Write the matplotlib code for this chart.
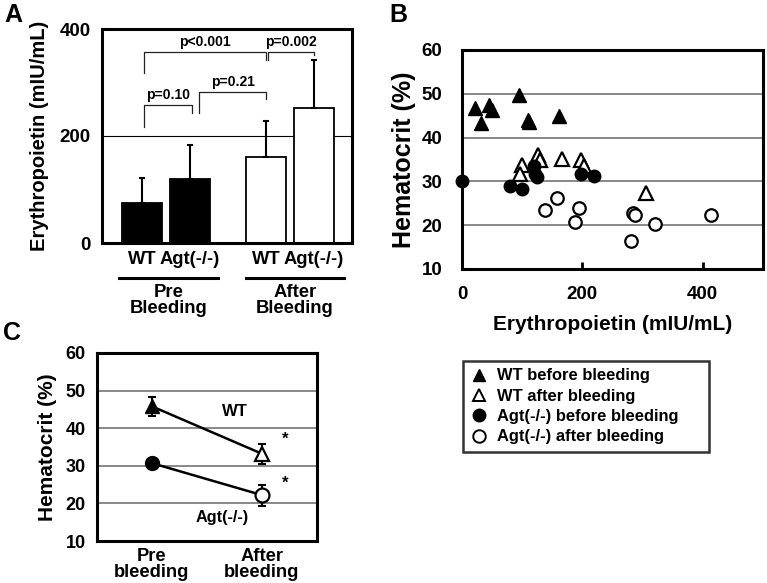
import numpy as np
import matplotlib
matplotlib.use("Agg")
import matplotlib.pyplot as plt
from matplotlib.lines import Line2D

plt.rcParams['font.family'] = ['Liberation Sans', 'DejaVu Sans']
plt.rcParams['font.weight'] = 'bold'
plt.rcParams['axes.labelweight'] = 'bold'

# ---- panel A: erythropoietin bars ----
bar_labels = ['WT', 'Agt(-/-)', 'WT', 'Agt(-/-)']
bar_pos = [1.0, 2.2, 4.1, 5.3]
epo_mean = [75, 120, 160, 252]
epo_sd = [46, 63, 68, 90]
bar_fill = ['black', 'black', 'white', 'white']
groups = ['Pre\nBleeding', 'After\nBleeding']

# brackets: x left, x right, top, left leg end, right leg end, label
brackets = [
    (1.05, 2.25, 258, 217, 243, 'p=0.10'),
    (2.43, 4.10, 282, 243, 269, 'p=0.21'),
    (1.05, 4.10, 357, 318, 342, 'p<0.001'),
    (4.15, 5.30, 357, 342, 351, 'p=0.002'),
]

# ---- panel B: scatter hematocrit vs erythropoietin ----
wt_pre_x = [22, 32, 45, 50, 95, 110, 112, 161]
wt_pre_y = [46.7, 43.3, 47.5, 46.2, 49.7, 44.0, 43.5, 45.0]
wt_post_x = [100, 96, 126, 130, 166, 198, 203, 306]
wt_post_y = [33.7, 31.8, 36.0, 35.0, 35.2, 34.9, 33.6, 27.3]
agt_pre_x = [0, 80, 99, 120, 121, 124, 198, 219]
agt_pre_y = [30.0, 29.0, 28.3, 33.5, 31.8, 31.0, 31.8, 31.3]
agt_post_x = [138, 158, 187, 194, 281, 284, 288, 321, 414]
agt_post_y = [23.5, 26.1, 20.8, 23.9, 16.5, 22.7, 22.3, 20.3, 22.3]

# ---- panel C: means ----
c_x = [1, 3]
c_labels = ['Pre\nbleeding', 'After\nbleeding']
wt_mean = [45.8, 33.2]
wt_err = [2.5, 2.7]
agt_mean = [30.7, 22.2]
agt_err = [0.5, 2.8]

fig = plt.figure(figsize=(7.67, 5.83), dpi=100)
W, H = 767, 583


def add_ax(x0, y0, x1, y1):
    return fig.add_axes([x0 / W, 1 - y1 / H, (x1 - x0) / W, (y1 - y0) / H])


def frame(ax, lw=2.2):
    for s in ax.spines.values():
        s.set_linewidth(lw)


# panel A
ax = add_ax(102, 29, 352, 243)
frame(ax)
ax.axhline(200, color='black', lw=0.8, zorder=0)
ax.bar(bar_pos, epo_mean, width=1.0, color=bar_fill, edgecolor='black',
       linewidth=1.3, zorder=2)
ax.errorbar(bar_pos, epo_mean, yerr=[np.zeros(4), epo_sd], fmt='none',
            ecolor='black', elinewidth=1.5, capsize=2.5, capthick=1.5, zorder=3)
for xl, xr, top, yl, yr, lab in brackets:
    ax.plot([xl, xl, xr, xr], [yl, top, top, yr], color='#222222', lw=0.9)
    ax.text((xl + xr) / 2, top + 19, lab, ha='center', va='center', fontsize=10)
ax.set_xlim(0, 6.25)
ax.set_ylim(0, 400)
ax.set_yticks([0, 200, 400])
ax.set_xticks([])
ax.tick_params(axis='y', length=0, labelsize=13.5, pad=8)
ax.set_ylabel('Erythropoietin (mIU/mL)', fontsize=14.5, labelpad=8)
tr = ax.get_xaxis_transform()
for p, lab in zip(bar_pos, bar_labels):
    ax.text(p, -0.079, lab, transform=tr, ha='center', va='center', fontsize=13.2)
for (a, b), g in zip([(0.43, 2.9), (3.6, 6.05)], groups):
    ax.plot([a, b], [-0.164, -0.164], transform=tr, color='black', lw=2.2,
            clip_on=False)
    ax.text((a + b) / 2, -0.27, g, transform=tr, ha='center', va='center',
            fontsize=13.3, linespacing=0.95)

# panel B
bx = add_ax(462, 50, 763, 269)
frame(bx)
for g in [20, 30, 40, 50]:
    bx.axhline(g, color='#888888', lw=1.4, zorder=0)
ms_b = 10
bx.plot(wt_pre_x, wt_pre_y, '^', ms=ms_b, color='black', ls='none', clip_on=False)
bx.plot(wt_post_x, wt_post_y, '^', ms=ms_b, mfc='white', mec='black', mew=1.6,
        ls='none', clip_on=False)
bx.plot(agt_pre_x, agt_pre_y, 'o', ms=9, color='black', ls='none', clip_on=False)
bx.plot(agt_post_x, agt_post_y, 'o', ms=9, mfc='white', mec='black', mew=1.6,
        ls='none', clip_on=False)
bx.set_xlim(0, 500)
bx.set_ylim(10, 60)
bx.set_xticks([0, 200, 400])
bx.set_yticks([10, 20, 30, 40, 50, 60])
bx.tick_params(axis='x', direction='in', length=5, width=2, labelsize=13.5, pad=12)
bx.tick_params(axis='y', length=0, labelsize=13.5, pad=14)
bx.set_xlabel('Erythropoietin (mIU/mL)', fontsize=15, labelpad=9)
bx.set_ylabel('Hematocrit (%)', fontsize=18, labelpad=4)

# panel C
cx = add_ax(97, 353, 317, 541)
frame(cx)
for g in [20, 30, 40, 50]:
    cx.axhline(g, color='#888888', lw=1.4, zorder=0)
cx.plot(c_x, wt_mean, color='black', lw=1.8, zorder=2)
cx.plot(c_x, agt_mean, color='black', lw=1.8, zorder=2)
cx.errorbar(c_x, wt_mean, yerr=wt_err, fmt='none', ecolor='black',
            elinewidth=1.5, capsize=3, capthick=1.5, zorder=2)
cx.errorbar(c_x, agt_mean, yerr=agt_err, fmt='none', ecolor='black',
            elinewidth=1.5, capsize=3, capthick=1.5, zorder=2)
cx.plot(c_x[0], wt_mean[0], '^', ms=10, color='black', zorder=3)
cx.plot(c_x[1], wt_mean[1], '^', ms=10, mfc='white', mec='black', mew=1.6, zorder=3)
cx.plot(c_x[0], agt_mean[0], 'o', ms=10, color='black', zorder=3)
cx.plot(c_x[1], agt_mean[1], 'o', ms=10, mfc='white', mec='black', mew=1.6, zorder=3)
cx.text(2.5, 44.4, 'WT', ha='center', va='center', fontsize=12)
cx.text(2.27, 16.2, 'Agt(-/-)', ha='center', va='center', fontsize=11.7)
cx.text(3.42, 37.0, '*', ha='center', va='center', fontsize=12)
cx.text(3.42, 25.3, '*', ha='center', va='center', fontsize=12)
cx.set_xlim(0, 4)
cx.set_ylim(10, 60)
cx.set_xticks(c_x)
cx.set_xticklabels(c_labels, linespacing=0.95)
cx.set_yticks([10, 20, 30, 40, 50, 60])
cx.tick_params(axis='x', length=0, labelsize=13.2, pad=5)
cx.tick_params(axis='y', length=0, labelsize=13, pad=8)
cx.set_ylabel('Hematocrit (%)', fontsize=15, labelpad=6)

# legend
handles = [
    Line2D([], [], marker='^', ls='none', color='black', ms=8),
    Line2D([], [], marker='^', ls='none', mfc='white', mec='black', mew=1.4, ms=8),
    Line2D([], [], marker='o', ls='none', color='black', ms=9),
    Line2D([], [], marker='o', ls='none', mfc='white', mec='black', mew=1.4, ms=9),
]
names = ['WT before bleeding', 'WT after bleeding',
         'Agt(-/-) before bleeding', 'Agt(-/-) after bleeding']
leg = fig.legend(handles, names, loc='upper left',
                 bbox_to_anchor=(463 / W, 1 - 449 / H, 246 / W, 88 / H),
                 mode='expand', borderaxespad=0,
                 fontsize=11.9, frameon=True, fancybox=False, handlelength=1.0,
                 handletextpad=0.6, labelspacing=0.32, borderpad=0.45)
leg.get_frame().set_edgecolor('black')
leg.get_frame().set_linewidth(1.8)

# panel letters
fig.text(4 / W, 1 - 15 / H, 'A', fontsize=18, va='center', ha='left')
fig.text(389 / W, 1 - 15 / H, 'B', fontsize=18, va='center', ha='left')
fig.text(3 / W, 1 - 333 / H, 'C', fontsize=18, va='center', ha='left')

fig.savefig('out.png', dpi=100)
